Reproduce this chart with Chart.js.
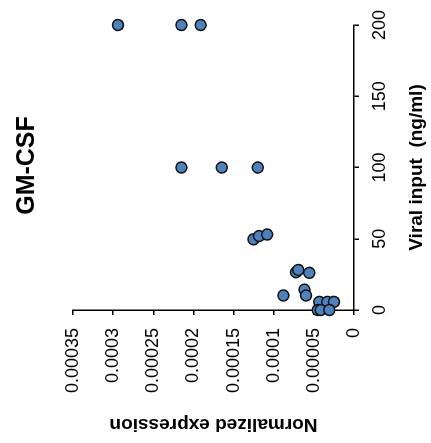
<!DOCTYPE html>
<html>
<head>
<meta charset="utf-8">
<script src="https://cdn.jsdelivr.net/npm/chart.js@4.4.1/dist/chart.umd.min.js"></script>
<style>
  html, body { margin: 0; padding: 0; background: #fff; overflow: hidden; }
  body { width: 431px; height: 443px; position: relative; }
  /* the plot is laid out landscape and turned a quarter turn counter-clockwise */
  #wrap {
    position: absolute; left: 0; top: 0;
    width: 443px; height: 431px;
    transform-origin: 0 0;
    transform: translate(0, 443px) rotate(-90deg);
  }
</style>
</head>
<body>
<div id="wrap"><canvas id="c" width="443" height="431"></canvas></div>
<script>
// GM-CSF expression against viral input, one point per replicate
const viralInput = [
  200, 200, 200,
  100, 100, 100,
  49.6, 51.9, 53,
  26.5, 28.1, 26.1,
  10.2, 14.3, 10.2,
  5.7, 5.7, 5.7,
  0, 0, 0
];
const expression = [
  0.000294, 0.000215, 0.000191,
  0.000215, 0.0001646, 0.0001198,
  0.0001252, 0.0001182, 0.0001082,
  0.0000721, 0.0000693, 0.0000556,
  0.0000879, 0.0000618, 0.0000597,
  0.0000432, 0.0000332, 0.0000249,
  0.0000451, 0.0000414, 0.0000307
];

const xTickValues = [0, 50, 100, 150, 200];
const xTickLabels = ['0', '50', '100', '150', '200'];
const yTickValues = [0, 0.00005, 0.0001, 0.00015, 0.0002, 0.00025, 0.0003, 0.00035];
const yTickLabels = ['0', '0.00005', '0.0001', '0.00015', '0.0002', '0.00025', '0.0003', '0.00035'];

const chartTitle = 'GM-CSF';
const xTitle = 'Viral input  (ng/ml)';
const yTitle = 'Normalized expression';

const FONT = '"Liberation Sans", Arial, Helvetica, sans-serif';

const points = viralInput.map((x, i) => ({ x: x, y: expression[i] }));

// title centred over the plotting area
const centredTitle = {
  id: 'centredTitle',
  afterDraw(chart) {
    const { ctx, chartArea } = chart;
    ctx.save();
    ctx.font = 'bold 25px ' + FONT;
    ctx.fillStyle = '#000';
    ctx.textAlign = 'center';
    ctx.textBaseline = 'middle';
    ctx.fillText(chartTitle, (chartArea.left + chartArea.right) / 2 + 2, 27);
    ctx.restore();
  }
};

const axisCommon = {
  type: 'linear',
  grid: {
    display: true,
    drawOnChartArea: false,
    drawTicks: true,
    tickLength: 5,
    color: '#000',
    lineWidth: 1.5
  },
  border: { display: true, color: '#000', width: 1.5 }
};

new Chart(document.getElementById('c'), {
  type: 'scatter',
  data: {
    datasets: [{
      data: points,
      clip: false,
      backgroundColor: '#4F81BD',
      borderColor: '#111',
      borderWidth: 1.5,
      pointRadius: 5.5,
      pointHoverRadius: 5.5
    }]
  },
  options: {
    responsive: false,
    animation: false,
    devicePixelRatio: 1,
    layout: { padding: { top: 73, right: 21, bottom: 0, left: 0 } },
    plugins: { legend: { display: false }, title: { display: false }, tooltip: { enabled: false } },
    scales: {
      x: Object.assign({}, axisCommon, {
        position: 'bottom',
        min: 0, max: 200,
        afterBuildTicks: s => { s.ticks = xTickValues.map(v => ({ value: v })); },
        afterFit: s => { s.height = 77; },
        ticks: {
          color: '#000', padding: 10, maxRotation: 0, autoSkip: false,
          font: { family: FONT, size: 18 },
          callback: (v, i) => xTickLabels[i]
        },
        title: {
          display: true, text: xTitle, color: '#000',
          font: { family: FONT, size: 19, weight: 'bold' },
          padding: { top: 0, bottom: 3 }
        }
      }),
      y: Object.assign({}, axisCommon, {
        position: 'left',
        min: 0, max: 0.00035,
        afterBuildTicks: s => { s.ticks = yTickValues.map(v => ({ value: v })); },
        afterFit: s => { s.width = 133; },
        ticks: {
          color: '#000', padding: 13, autoSkip: false,
          font: { family: FONT, size: 18 },
          callback: (v, i) => yTickLabels[i]
        },
        title: {
          display: true, text: yTitle, color: '#000',
          font: { family: FONT, size: 19, weight: 'bold' },
          padding: { top: 7, bottom: 0 }
        }
      })
    }
  },
  plugins: [centredTitle]
});
</script>
</body>
</html>
